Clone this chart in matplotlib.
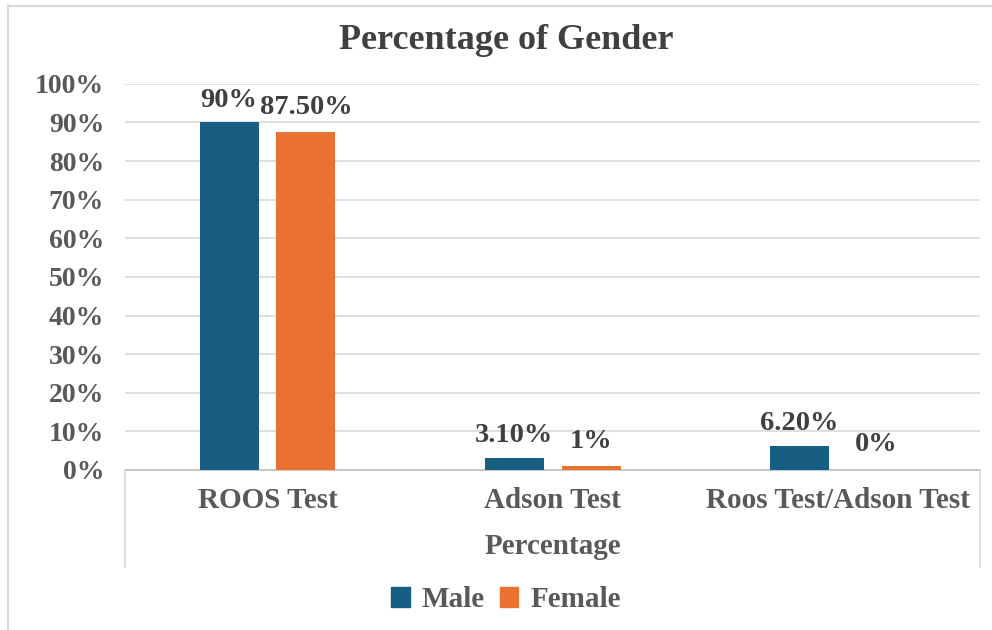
import numpy as np
import matplotlib
matplotlib.use("Agg")
import matplotlib.pyplot as plt
from matplotlib.lines import Line2D
from matplotlib.patches import Patch

categories = ["ROOS Test", "Adson Test", "Roos Test/Adson Test"]
male = [0.90, 0.031, 0.062]
female = [0.875, 0.01, 0.0]
male_labels = ["90%", "3.10%", "6.20%"]
female_labels = ["87.50%", "1%", "0%"]
yticks = np.arange(0, 1.01, 0.1)

blue = "#175e82"
orange = "#e97132"
grey_txt = "#595959"
grid_col = "#d9d9d9"

plt.rcParams["font.family"] = ["Liberation Serif", "DejaVu Serif"]
plt.rcParams["font.weight"] = "bold"

fig = plt.figure(figsize=(9.92, 6.3), dpi=100)
ax = fig.add_axes([0.126, 0.254, 0.862, 0.613])

x = np.arange(len(categories))
w = 0.207
off = 0.135
ax.bar(x - off, male, w, color=blue, label="Male", zorder=3)
ax.bar(x + off, female, w, color=orange, label="Female", zorder=3)

for xi, v, s in zip(x - off, male, male_labels):
    ax.annotate(s, (xi, v), xytext=(0, 16), textcoords="offset points",
                ha="center", va="center", fontsize=20.5, fontweight="bold", color="#404040")
for xi, v, s in zip(x + off, female, female_labels):
    ax.annotate(s, (xi, v), xytext=(0, 18), textcoords="offset points",
                ha="center", va="center", fontsize=20.5, fontweight="bold", color="#404040")

ax.set_xlim(-0.5, 2.5)
ax.set_ylim(0, 1.0)
ax.set_yticks(yticks)
ax.set_yticklabels([f"{int(round(t*100))}%" for t in yticks], fontweight="bold")
ax.set_xticks(x)
ax.set_xticklabels(categories, fontweight="bold")
ax.tick_params(axis="y", length=0, pad=15, labelsize=20, labelcolor=grey_txt)
ax.tick_params(axis="x", length=0, pad=12, labelsize=21, labelcolor=grey_txt)

ax.grid(axis="y", color=grid_col, linewidth=1.2, zorder=0)
for sp in ["top", "right", "left"]:
    ax.spines[sp].set_visible(False)
ax.spines["bottom"].set_color("#bfbfbf")
ax.spines["bottom"].set_linewidth(1.2)

# outer category lines below axis
for fx in (0.126, 0.988):
    fig.add_artist(Line2D([fx, fx], [0.1, 0.254], color=grid_col, linewidth=1.2))

# chart border
fig.add_artist(Line2D([0.008, 0.008], [0.0, 0.99], color=grid_col, linewidth=1.5))
fig.add_artist(Line2D([0.008, 1.0], [0.99, 0.99], color=grid_col, linewidth=1.5))

fig.text(0.51, 0.935, "Percentage of Gender", ha="center", va="center",
         fontsize=26, fontweight="bold", color="#404040")
fig.text(0.557, 0.133, "Percentage", ha="center", va="center",
         fontsize=21, fontweight="bold", color=grey_txt)

handles = [Patch(color=blue, label="Male"), Patch(color=orange, label="Female")]
leg = fig.legend(handles=handles, loc="center", bbox_to_anchor=(0.51, 0.048), ncol=2,
                 frameon=False, fontsize=21, handlelength=0.65, handleheight=0.65,
                 handletextpad=0.4, columnspacing=0.5)
for t in leg.get_texts():
    t.set_color(grey_txt)
    t.set_fontweight("bold")

fig.savefig("out.png", dpi=100)
